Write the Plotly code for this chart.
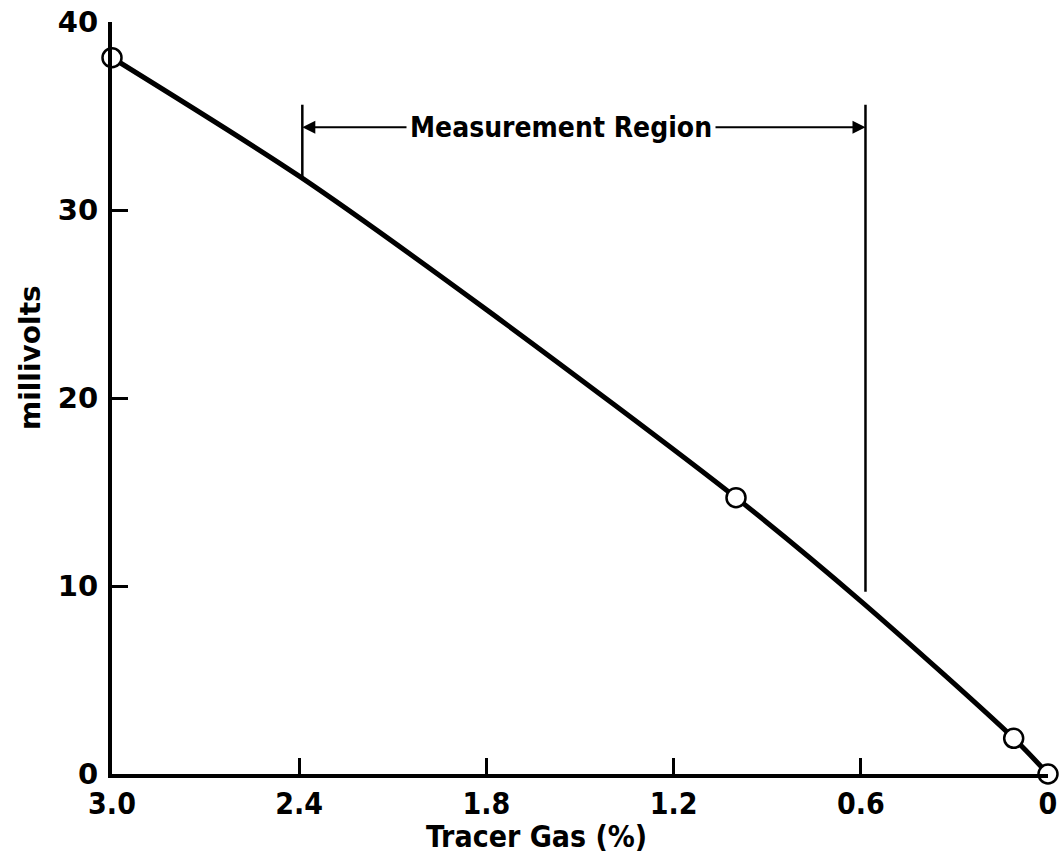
import plotly.graph_objects as go

# Measured data points (open circles)
tracer_pct = [3.0, 1.0, 0.11, 0.0]
millivolts = [38.1, 14.7, 1.9, 0.0]

# Curve as drawn in the figure
curve_pct = [3.0, 2.4, 1.8, 1.0, 0.6, 0.11, 0.0]
curve_mv = [38.1, 31.8, 24.7, 14.7, 9.2, 1.9, 0.0]

region_bounds = [2.39, 0.585]
region_top = 35.6
region_arrow_y = 34.4
region_bottoms = [31.7, 9.7]
region_label = "Measurement Region"

x_ticks = [3.0, 2.4, 1.8, 1.2, 0.6, 0.0]
x_tick_text = ["3.0", "2.4", "1.8", "1.2", "0.6", "0"]
y_ticks = [0, 10, 20, 30, 40]
y_tick_text = ["0", "10", "20", "30", "40"]

NARROW = "DejaVu Sans Condensed, Roboto Condensed, Roboto, sans-serif"
GEO = "DejaVu Sans"

# plot area in pixels
L, R, T, B = 112, 16, 22, 82
W, H = 1064, 856
PW, PH = W - L - R, H - T - B


def px_to_paper(px, py):
    return (px - L) / PW, (H - B - py) / PH


fig = go.Figure()
fig.add_trace(go.Scatter(
    x=curve_pct, y=curve_mv, mode="lines",
    line=dict(color="black", width=5, shape="spline", smoothing=0.8),
    cliponaxis=False, hoverinfo="skip", showlegend=False))
fig.add_trace(go.Scatter(
    x=tracer_pct, y=millivolts, mode="markers",
    marker=dict(symbol="circle", size=19, color="white",
                line=dict(color="black", width=2.5)),
    cliponaxis=False, showlegend=False))

# Region vertical lines
for xb, yb in zip(region_bounds, region_bottoms):
    fig.add_shape(type="line", x0=xb, x1=xb, y0=yb, y1=region_top,
                  xref="x", yref="y", line=dict(color="black", width=2.5))

mid = 1.56
for xb in region_bounds:
    fig.add_annotation(x=xb, y=region_arrow_y, ax=mid, ay=region_arrow_y,
                       xref="x", yref="y", axref="x", ayref="y",
                       text="", showarrow=True, arrowhead=2, arrowsize=1.3,
                       arrowwidth=2, arrowcolor="black")
fig.add_annotation(x=mid, y=region_arrow_y, xref="x", yref="y",
                   text="<b>" + region_label + "</b>", showarrow=False,
                   bgcolor="white", borderpad=3,
                   font=dict(family=NARROW, size=28, color="black"))

# Axis titles as annotations for precise placement
tx, ty = px_to_paper(30, 358)
fig.add_annotation(x=tx, y=ty, xref="paper", yref="paper",
                   xanchor="center", yanchor="middle",
                   text="<b>millivolts</b>", showarrow=False, textangle=-90,
                   font=dict(family=GEO, size=28, color="black"))
tx, ty = px_to_paper(536, 837)
fig.add_annotation(x=tx, y=ty, xref="paper", yref="paper",
                   xanchor="center", yanchor="middle",
                   text="<b>Tracer Gas (%)</b>", showarrow=False,
                   font=dict(family=NARROW, size=30, color="black"))

fig.update_layout(
    width=W, height=H,
    margin=dict(l=L, r=R, t=T, b=B, autoexpand=False),
    plot_bgcolor="white", paper_bgcolor="white",
    showlegend=False,
)
fig.update_xaxes(
    range=[3.0, 0.0], tickvals=x_ticks, ticktext=x_tick_text,
    showgrid=False, zeroline=False, showline=True, linecolor="black",
    linewidth=4, ticks="inside", ticklen=16, tickwidth=2.5, tickcolor="black",
    tickfont=dict(family=NARROW, size=30, color="black", weight="bold"),
    automargin=False,
)
fig.update_yaxes(
    range=[0, 40], tickvals=y_ticks, ticktext=y_tick_text,
    showgrid=False, zeroline=False, showline=True, linecolor="black",
    linewidth=4, ticks="inside", ticklen=16, tickwidth=2.5, tickcolor="black",
    tickfont=dict(family=GEO, size=29, color="black", weight="bold"),
    ticklabelstandoff=4, automargin=False,
)

fig.write_html("out.html")
